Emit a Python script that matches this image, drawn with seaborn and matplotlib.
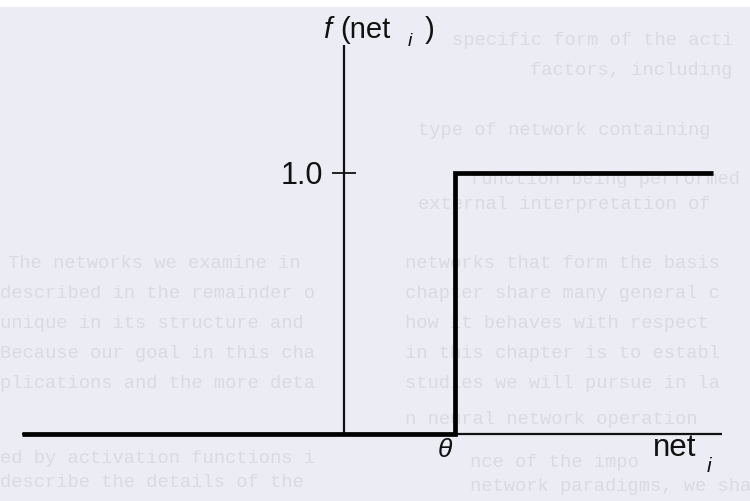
import matplotlib
matplotlib.use("Agg")
import matplotlib.pyplot as plt
from matplotlib.patches import Rectangle
import seaborn as sns

# Hard-limiting (step) activation: f(net) = 1 for net >= theta, else 0
theta = 1.0
net = [-2.9, theta, 3.32]
f_net = [0.0, 1.0, 1.0]
y_ticks = [1.0]
y_tick_labels = ["1.0"]
axis_y_top = 1.49
axis_x_span = (-2.9, 3.405)

# faint page text showing through the scan: (left px, baseline px, text)
page_lines = [
    (452, 45, "specific form of the acti"),
    (530, 75, "factors, including"),
    (418, 135, "type of network containing"),
    (470, 184, "function being performed"),
    (418, 209, "external interpretation of"),
    (405, 268, "networks that form the basis"),
    (405, 298, "chapter share many general c"),
    (405, 328, "how it behaves with respect "),
    (405, 358, "in this chapter is to establ"),
    (405, 388, "studies we will pursue in la"),
    (405, 424, "n neural network operation"),
    (470, 467, "nce of the impo"),
    (470, 491, "network paradigms, we sha"),
    (8, 268, "The networks we examine in"),
    (0, 298, "described in the remainder o"),
    (0, 328, "unique in its structure and "),
    (0, 358, "Because our goal in this cha"),
    (0, 388, "plications and the more deta"),
    (0, 463, "ed by activation functions i"),
    (0, 487, "describe the details of the "),
]
page_color = "#dadae2"

sns.set_style("white")
plt.rcParams["font.family"] = ["Liberation Sans", "DejaVu Sans"]

W, H = 750, 501
fig = plt.figure(figsize=(W / 100, H / 100), dpi=100)
fig.patch.set_facecolor("#ececf4")
fig.patches.append(Rectangle((0, 1 - 7 / H), 1, 7 / H, transform=fig.transFigure,
                             facecolor="white", edgecolor="none", zorder=-5))

ax = fig.add_axes([0, 0, 1, 1])
ax.patch.set_alpha(0)

# data scaling: origin near the middle-left, theta one unit to the right
px_x, px_y = 111.0, 261.0
x0_px, y0_px = 344, 434
ax.set_xlim(-x0_px / px_x, (W - x0_px) / px_x)
ax.set_ylim(-(H - y0_px) / px_y, y0_px / px_y)


def pix(x, y):
    return x / W, 1 - y / H


for x, y, txt in page_lines:
    fig.text(*pix(x, y), txt, family="Liberation Mono", fontsize=13.5,
             color=page_color, va="baseline", ha="left", zorder=-1)

# axes through the origin
for side in ("top", "right"):
    ax.spines[side].set_visible(False)
ax.spines["left"].set_position(("data", 0))
ax.spines["bottom"].set_position(("data", 0))
ax.spines["left"].set_bounds(0, axis_y_top)
ax.spines["bottom"].set_bounds(*axis_x_span)
for side in ("left", "bottom"):
    ax.spines[side].set_linewidth(1.6)
    ax.spines[side].set_color("#111111")
    ax.spines[side].set_capstyle("butt")

# the step function
sns.lineplot(x=net, y=f_net, ax=ax, drawstyle="steps-post", color="black",
             linewidth=3.4, sort=False, solid_capstyle="butt",
             solid_joinstyle="miter", zorder=5)

ax.set_xticks([])
ax.set_yticks(y_ticks)
ax.set_yticklabels(y_tick_labels)
ax.tick_params(axis="y", direction="inout", length=16.6, width=1.3,
               color="#111111", pad=7, labelsize=22, labelcolor="#111111", left=True)
ax.grid(False)

# labels
fs = 21
fig.text(*pix(323, 38), "f", fontsize=fs, style="italic", va="baseline", color="#111111")
fig.text(*pix(340, 38), "(net", fontsize=fs, va="baseline", color="#111111")
fig.text(*pix(408, 46), "i", fontsize=14, style="italic", va="baseline", color="#111111")
fig.text(*pix(425, 38), ")", fontsize=fs, va="baseline", color="#111111")

fig.text(*pix(445, 457), "θ", fontsize=19, style="italic", ha="center",
         va="baseline", color="#111111")
fig.text(*pix(653, 456), "net", fontsize=22.5, va="baseline", color="#111111")
fig.text(*pix(707, 472), "i", fontsize=15, style="italic", va="baseline", color="#111111")

fig.savefig("out.png", dpi=100, facecolor=fig.get_facecolor())
